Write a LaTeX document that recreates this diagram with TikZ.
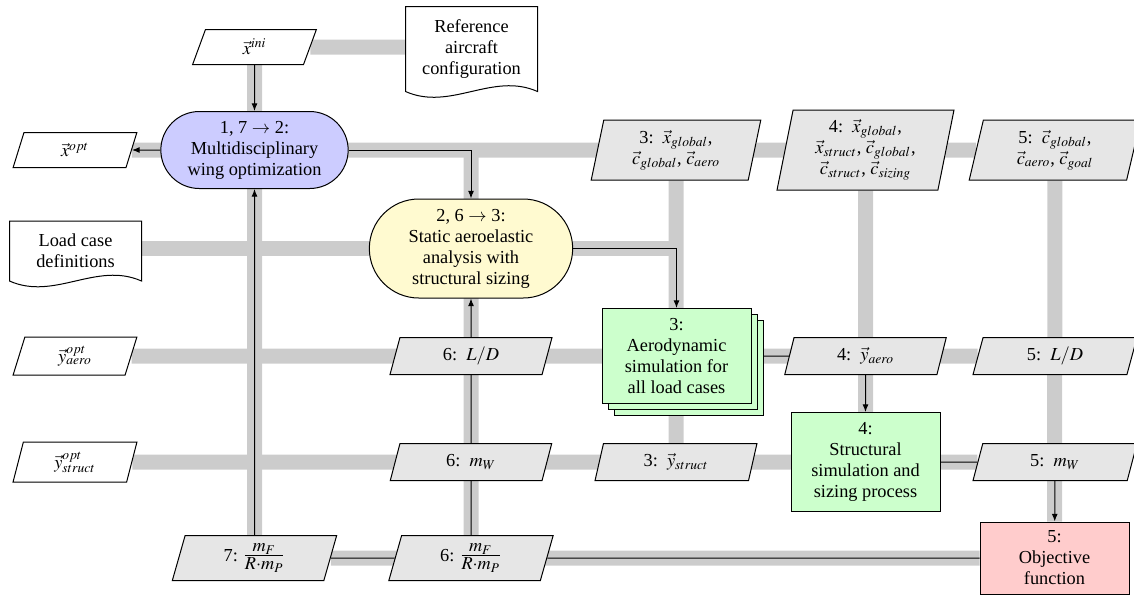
\documentclass[tikz,border=0pt]{standalone}
\usepackage{mathptmx}
\usepackage{fontspec}
\setmainfont{Liberation Serif}
\newfontfamily\txtfont{Liberation Serif}
\usetikzlibrary{shapes.geometric,shapes.misc,shadows,arrows.meta}
\newlength\upx
\setlength\upx{0.6pt}
\newcommand\bigfr[2]{{\fontsize{14.4}{16}\selectfont$\frac{#1}{#2}$}}
\definecolor{optcol}{HTML}{CCCCFF}
\definecolor{mdacol}{HTML}{FFFAD0}
\definecolor{ancol}{HTML}{CCFFCC}
\definecolor{funcol}{HTML}{FFCCCC}
\definecolor{datcol}{HTML}{E6E6E6}
\definecolor{linecol}{HTML}{CCCCCC}
\pgfdeclarelayer{data}
\pgfdeclarelayer{proc}
\pgfdeclarelayer{doc}
\pgfsetlayers{data,proc,doc,main}
\tikzset{
  base/.style={font=\txtfont\fontsize{11}{12.6}\selectfont, align=center, inner sep=2pt, line width=0.6pt},
  optbox/.style={base, draw, rounded rectangle, fill=optcol, minimum width=194\upx, minimum height=77\upx},
  mdabox/.style={base, draw, rounded rectangle, fill=mdacol, minimum width=210\upx, minimum height=99\upx},
  anbox/.style={base, draw, rectangle, fill=ancol, minimum width=149\upx, minimum height=95\upx},
  funbox/.style={base, draw, rectangle, fill=funcol, minimum width=149\upx, minimum height=72\upx},
  datbox/.style={base, draw, trapezium, trapezium left angle=80, trapezium right angle=100,
    trapezium stretches=true, fill=datcol, minimum width=162\upx, minimum height=37\upx},
  iobox/.style={datbox, fill=white, minimum width=124\upx, minimum height=35\upx},
  docbox/.style={base, minimum width=131\upx},
  docline/.style={draw, fill=white, line width=0.6pt},
  dline/.style={line width=15\upx, draw=linecol},
  pline/.style={line width=0.6pt, draw=black},
  parrow/.style={pline, -{Latex[length=4.6pt, width=3.6pt]}},
}
\begin{document}
\begin{tikzpicture}[x=0.6pt,y=-0.6pt]
\useasboundingbox (0,0) rectangle (1134,596);
% row 0
\node[iobox] (xini) at (254.5,47) {$\vec{x}^{ini}$};
\node[docbox, minimum height=84\upx] (ref) at (471.5,49) {Reference\\aircraft\\configuration};
% row 1
\node[iobox] (xopt) at (75,150) {$\vec{x}^{opt}$};
\node[optbox] (opt) at (254.5,150) {1, 7 $\rightarrow$ 2:\\Multidisciplinary\\wing optimization};
\node[datbox, minimum width=170\upx, minimum height=60\upx] (in3) at (676,150)
  {3:\enspace$\vec{x}_{global}$,\\$\vec{c}_{global}$, $\vec{c}_{aero}$};
\node[datbox, minimum width=178\upx, minimum height=80\upx] (in4) at (865.5,150)
  {4:\enspace$\vec{x}_{global}$,\\$\vec{x}_{struct}$, $\vec{c}_{global}$,\\$\vec{c}_{struct}$, $\vec{c}_{sizing}$};
\node[datbox, minimum width=172\upx, minimum height=60\upx] (in5) at (1055,150)
  {5:\enspace$\vec{c}_{global}$,\\$\vec{c}_{aero}$, $\vec{c}_{goal}$};
% row 2
\node[docbox, minimum height=59\upx] (load) at (75.5,251) {Load case\\definitions};
\node[mdabox] (mda) at (471,248.5) {2, 6 $\rightarrow$ 3:\\Static aeroelastic\\analysis with\\structural sizing};
% row 3
\node[iobox, minimum height=38\upx] (yaopt) at (75,356) {$\vec{y}^{opt}_{aero}$};
\node[datbox] (ld6) at (471,356) {6:\enspace$L/D$};
\node[anbox, double copy shadow={shadow xshift=6\upx, shadow yshift=-6\upx}] (aero) at (676.5,356)
  {3:\\Aerodynamic\\simulation for\\all load cases};
\node[datbox] (ya4) at (865.5,356) {4:\enspace$\vec{y}_{aero}$};
\node[datbox, minimum width=164\upx] (ld5) at (1055,356) {5:\enspace$L/D$};
% row 4
\node[iobox, minimum height=40\upx] (ysopt) at (75,462) {$\vec{y}^{opt}_{struct}$};
\node[datbox] (mw6) at (471,462) {6:\enspace$m_W$};
\node[datbox] (ys3) at (676,462) {3:\enspace$\vec{y}_{struct}$};
\node[anbox, minimum height=99\upx] (stru) at (865.5,462) {4:\\Structural\\simulation and\\sizing process};
\node[datbox, minimum width=164\upx] (mw5) at (1055,462) {5:\enspace$m_W$};
% row 5
\node[datbox, minimum width=165\upx, minimum height=45\upx] (f7) at (254.5,558) {7:\;\bigfr{m_F}{R\cdot m_P}};
\node[datbox, minimum width=165\upx, minimum height=45\upx] (f6) at (471,558) {6:\;\bigfr{m_F}{R\cdot m_P}};
\node[funbox] (obj) at (1054.5,558) {5:\\Objective\\function};
% document shapes
\begin{pgfonlayer}{doc}
\draw[docline] (ref.south west) -- (ref.north west) -- (ref.north east) -- (ref.south east)
  .. controls +(-45,-20) and +(45,20) .. (ref.south west) -- cycle;
\draw[docline] (load.south west) -- (load.north west) -- (load.north east) -- (load.south east)
  .. controls +(-45,-20) and +(45,20) .. (load.south west) -- cycle;
\end{pgfonlayer}
% data lines
\begin{pgfonlayer}{data}
\draw[dline] (xini) -- (xini -| ref);
\draw[dline] (xopt) -- (in5);
\draw[dline] (xini) -- (f7);
\draw[dline] (mda |- opt) -- (f6);
\draw[dline] (load |- mda) -- (aero |- mda);
\draw[dline] (yaopt) -- (ld5);
\draw[dline] (ysopt) -- (mw5);
\draw[dline] (f7) -- (obj);
\draw[dline] (in3) -- (ys3);
\draw[dline] (in4) -- (stru);
\draw[dline] (in5) -- (obj);
\end{pgfonlayer}
% process lines
\begin{pgfonlayer}{proc}
\draw[parrow] (xini) -- (opt);
\draw[parrow] (opt) -- (xopt);
\draw[parrow] (opt) -| (mda);
\draw[parrow] (mda) -| (aero);
\draw[pline] (aero) -- (ya4);
\draw[parrow] (ya4) -- (stru);
\draw[pline] (stru) -- (mw5);
\draw[parrow] (mw5) -- (obj);
\draw[pline] (obj) -- (f6);
\draw[pline] (f6) -- (f7);
\draw[parrow] (f6) -- (mda);
\draw[parrow] (f7) -- (opt);
\end{pgfonlayer}
\end{tikzpicture}
\end{document}
